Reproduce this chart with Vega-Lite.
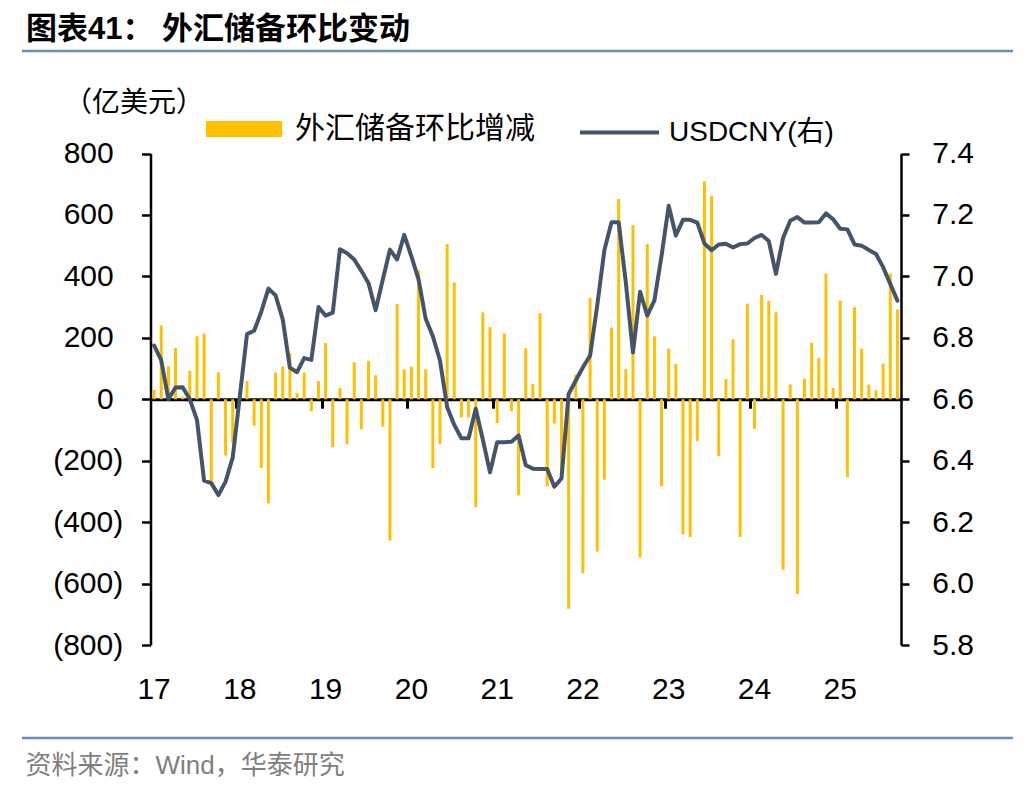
{
"$schema": "https://vega.github.io/schema/vega-lite/v6.json",
"autosize": {"type": "none"},
"width": 991,
"height": 687,
"padding": {"left": 22, "top": 51, "right": 23, "bottom": 54},
"background": "white",
"title": {"text": "图表41：  外汇储备环比变动", "anchor": "start", "frame": "group", "font": "Liberation Sans, Noto Sans CJK SC", "fontSize": 31, "fontWeight": "bold", "color": "black", "offset": 5, "dx": 4},
"data": {"values": [
{"date":"2017-06","fx":30,"usdcny":6.775},
{"date":"2017-07","fx":240,"usdcny":6.727},
{"date":"2017-08","fx":107,"usdcny":6.600},
{"date":"2017-09","fx":167,"usdcny":6.638},
{"date":"2017-10","fx":8,"usdcny":6.639},
{"date":"2017-11","fx":93,"usdcny":6.600},
{"date":"2017-12","fx":205,"usdcny":6.533},
{"date":"2018-01","fx":214,"usdcny":6.335},
{"date":"2018-02","fx":-271,"usdcny":6.327},
{"date":"2018-03","fx":88,"usdcny":6.288},
{"date":"2018-04","fx":-183,"usdcny":6.332},
{"date":"2018-05","fx":-143,"usdcny":6.410},
{"date":"2018-06","fx":18,"usdcny":6.610},
{"date":"2018-07","fx":59,"usdcny":6.812},
{"date":"2018-08","fx":-86,"usdcny":6.823},
{"date":"2018-09","fx":-224,"usdcny":6.885},
{"date":"2018-10","fx":-339,"usdcny":6.960},
{"date":"2018-11","fx":87,"usdcny":6.938},
{"date":"2018-12","fx":107,"usdcny":6.860},
{"date":"2019-01","fx":150,"usdcny":6.703},
{"date":"2019-02","fx":20,"usdcny":6.688},
{"date":"2019-03","fx":87,"usdcny":6.734},
{"date":"2019-04","fx":-39,"usdcny":6.728},
{"date":"2019-05","fx":59,"usdcny":6.900},
{"date":"2019-06","fx":183,"usdcny":6.872},
{"date":"2019-07","fx":-156,"usdcny":6.882},
{"date":"2019-08","fx":37,"usdcny":7.088},
{"date":"2019-09","fx":-147,"usdcny":7.075},
{"date":"2019-10","fx":120,"usdcny":7.055},
{"date":"2019-11","fx":-98,"usdcny":7.018},
{"date":"2019-12","fx":125,"usdcny":6.978},
{"date":"2020-01","fx":78,"usdcny":6.890},
{"date":"2020-02","fx":-89,"usdcny":6.990},
{"date":"2020-03","fx":-460,"usdcny":7.087},
{"date":"2020-04","fx":310,"usdcny":7.055},
{"date":"2020-05","fx":97,"usdcny":7.135},
{"date":"2020-06","fx":106,"usdcny":7.065},
{"date":"2020-07","fx":420,"usdcny":6.990},
{"date":"2020-08","fx":97,"usdcny":6.862},
{"date":"2020-09","fx":-224,"usdcny":6.805},
{"date":"2020-10","fx":-146,"usdcny":6.726},
{"date":"2020-11","fx":505,"usdcny":6.575},
{"date":"2020-12","fx":380,"usdcny":6.516},
{"date":"2021-01","fx":-59,"usdcny":6.473},
{"date":"2021-02","fx":-59,"usdcny":6.473},
{"date":"2021-03","fx":-351,"usdcny":6.569},
{"date":"2021-04","fx":283,"usdcny":6.468},
{"date":"2021-05","fx":235,"usdcny":6.362},
{"date":"2021-06","fx":-78,"usdcny":6.460},
{"date":"2021-07","fx":214,"usdcny":6.460},
{"date":"2021-08","fx":-39,"usdcny":6.462},
{"date":"2021-09","fx":-313,"usdcny":6.482},
{"date":"2021-10","fx":166,"usdcny":6.385},
{"date":"2021-11","fx":50,"usdcny":6.374},
{"date":"2021-12","fx":280,"usdcny":6.373},
{"date":"2022-01","fx":-284,"usdcny":6.373},
{"date":"2022-02","fx":-79,"usdcny":6.315},
{"date":"2022-03","fx":-235,"usdcny":6.342},
{"date":"2022-04","fx":-682,"usdcny":6.617},
{"date":"2022-05","fx":80,"usdcny":6.661},
{"date":"2022-06","fx":-566,"usdcny":6.704},
{"date":"2022-07","fx":330,"usdcny":6.742},
{"date":"2022-08","fx":-496,"usdcny":6.905},
{"date":"2022-09","fx":-262,"usdcny":7.085},
{"date":"2022-10","fx":233,"usdcny":7.176},
{"date":"2022-11","fx":652,"usdcny":7.176},
{"date":"2022-12","fx":98,"usdcny":6.980},
{"date":"2023-01","fx":566,"usdcny":6.752},
{"date":"2023-02","fx":-515,"usdcny":6.950},
{"date":"2023-03","fx":506,"usdcny":6.872},
{"date":"2023-04","fx":205,"usdcny":6.922},
{"date":"2023-05","fx":-283,"usdcny":7.067},
{"date":"2023-06","fx":165,"usdcny":7.230},
{"date":"2023-07","fx":115,"usdcny":7.133},
{"date":"2023-08","fx":-440,"usdcny":7.184},
{"date":"2023-09","fx":-449,"usdcny":7.184},
{"date":"2023-10","fx":-137,"usdcny":7.175},
{"date":"2023-11","fx":710,"usdcny":7.107},
{"date":"2023-12","fx":662,"usdcny":7.085},
{"date":"2024-01","fx":-185,"usdcny":7.104},
{"date":"2024-02","fx":66,"usdcny":7.106},
{"date":"2024-03","fx":195,"usdcny":7.094},
{"date":"2024-04","fx":-449,"usdcny":7.105},
{"date":"2024-05","fx":311,"usdcny":7.107},
{"date":"2024-06","fx":-97,"usdcny":7.125},
{"date":"2024-07","fx":340,"usdcny":7.135},
{"date":"2024-08","fx":320,"usdcny":7.115},
{"date":"2024-09","fx":283,"usdcny":7.008},
{"date":"2024-10","fx":-555,"usdcny":7.125},
{"date":"2024-11","fx":48,"usdcny":7.181},
{"date":"2024-12","fx":-634,"usdcny":7.193},
{"date":"2025-01","fx":67,"usdcny":7.175},
{"date":"2025-02","fx":184,"usdcny":7.175},
{"date":"2025-03","fx":135,"usdcny":7.176},
{"date":"2025-04","fx":409,"usdcny":7.205},
{"date":"2025-05","fx":37,"usdcny":7.186},
{"date":"2025-06","fx":321,"usdcny":7.155},
{"date":"2025-07","fx":-254,"usdcny":7.153},
{"date":"2025-08","fx":300,"usdcny":7.104},
{"date":"2025-09","fx":165,"usdcny":7.100},
{"date":"2025-10","fx":48,"usdcny":7.086},
{"date":"2025-11","fx":29,"usdcny":7.073},
{"date":"2025-12","fx":116,"usdcny":7.030},
{"date":"2026-01","fx":409,"usdcny":6.975},
{"date":"2026-02","fx":292,"usdcny":6.921}
]},
"layer": [
{
"mark": {"type": "bar", "width": {"band": 0.42}},
"encoding": {
"x": {"field": "date", "type": "ordinal",
"scale": {"type": "band", "range": [128.5, 879], "paddingInner": 0, "paddingOuter": 0},
"axis": {"orient": "bottom", "offset": -93,
"values": ["2017-06","2018-06","2019-06","2020-06","2021-06","2022-06","2023-06","2024-06","2025-06"],
"labelExpr": "substring(datum.value, 2, 4)", "labelAngle": 0, "labelAlign": "center", "labelBaseline": "top",
"labelFont": "Liberation Sans", "labelFontSize": 30, "labelColor": "black", "labelPadding": 29,
"labelOverlap": false, "labelFlush": false, "labelBound": false,
"ticks": false, "tickSize": 0, "domain": false,
"title": "资料来源：Wind，华泰研究", "titleX": 3, "titleY": 120, "titleAlign": "left", "titleAnchor": "start", "titleBaseline": "middle", "titleAngle": 0,
"titleFont": "Liberation Sans, Noto Sans CJK SC", "titleFontSize": 26, "titleFontWeight": "normal", "titleColor": "#7f7f7f"}},
"y": {"field": "fx", "type": "quantitative",
"scale": {"domain": [-800, 800], "range": [594, 102.5], "nice": false, "zero": false},
"axis": {"orient": "left", "offset": -128.5,
"values": [-800, -600, -400, -200, 0, 200, 400, 600, 800],
"labelExpr": "datum.value < 0 ? '(' + format(-datum.value, ',') + ')' : format(datum.value, ',')",
"labelFont": "Liberation Sans", "labelFontSize": 30, "labelColor": "black",
"labelPadding": {"condition": {"test": "datum.value >= 0", "value": 28.3}, "value": 18.8},
"labelOverlap": false, "labelFlush": false, "labelBound": false,
"tickSize": 9, "tickWidth": 2.5, "tickColor": "black", "domainColor": "black", "domainWidth": 2.5,
"title": "（亿美元）", "titleAngle": 0, "titleX": -87, "titleY": 52, "titleAlign": "left", "titleBaseline": "middle",
"titleFont": "Noto Sans CJK SC", "titleFontSize": 28, "titleFontWeight": "normal", "titleColor": "black"}},
"fill": {"datum": "外汇储备环比增减", "type": "nominal",
"scale": {"range": ["#FFC000"]},
"legend": {"orient": "none", "legendX": 184, "legendY": 40, "title": null,
"symbolType": "M-1,-0.21H1V0.21H-1Z", "symbolSize": 5776, "symbolStrokeWidth": 0,
"labelFont": "Noto Sans CJK SC", "labelFontSize": 30, "labelColor": "black", "labelOffset": 13, "labelLimit": 400, "padding": 0}}
}
},
{
"mark": {"type": "line", "strokeWidth": 4, "strokeJoin": "round", "strokeCap": "round"},
"encoding": {
"x": {"field": "date", "type": "ordinal",
"scale": {"type": "band", "range": [128.5, 879], "paddingInner": 0, "paddingOuter": 0},
"axis": {"orient": "bottom", "offset": -338.8,
"values": ["2018-06","2019-06","2020-06","2021-06","2022-06","2023-06","2024-06","2025-06"],
"labels": false, "ticks": true, "tickSize": 9, "tickWidth": 3, "tickColor": "black",
"domain": true, "domainColor": "black", "domainWidth": 3,
"bandPosition": 0, "tickExtra": false, "title": null}},
"y": {"field": "usdcny", "type": "quantitative",
"scale": {"domain": [5.8, 7.4], "range": [594, 102.5], "nice": false, "zero": false},
"axis": {"orient": "right", "offset": -112,
"values": [5.8, 6.0, 6.2, 6.4, 6.6, 6.8, 7.0, 7.2, 7.4], "format": ".1f",
"labelFont": "Liberation Sans", "labelFontSize": 30, "labelColor": "black", "labelPadding": 22.7,
"labelOverlap": false, "labelFlush": false, "labelBound": false,
"tickSize": 8, "tickWidth": 2.5, "tickColor": "black", "domainColor": "black", "domainWidth": 2.5,
"title": null}},
"stroke": {"datum": "USDCNY(右)", "type": "nominal",
"scale": {"range": ["#44546A"]},
"legend": {"orient": "none", "legendX": 556, "legendY": 40, "title": null,
"symbolType": "stroke", "symbolSize": 6241, "symbolStrokeWidth": 4,
"labelFont": "Liberation Sans, Noto Sans CJK SC", "labelFontSize": 28, "labelColor": "black", "labelOffset": 8, "labelLimit": 400, "padding": 0}}
}
}
],
"resolve": {"scale": {"y": "independent"}, "axis": {"x": "independent"}},
"config": {
"view": {"stroke": "#6a8dbc", "strokeWidth": 2.5, "strokeDash": [991, 687, 991, 687]},
"axis": {"grid": false}
}
}
